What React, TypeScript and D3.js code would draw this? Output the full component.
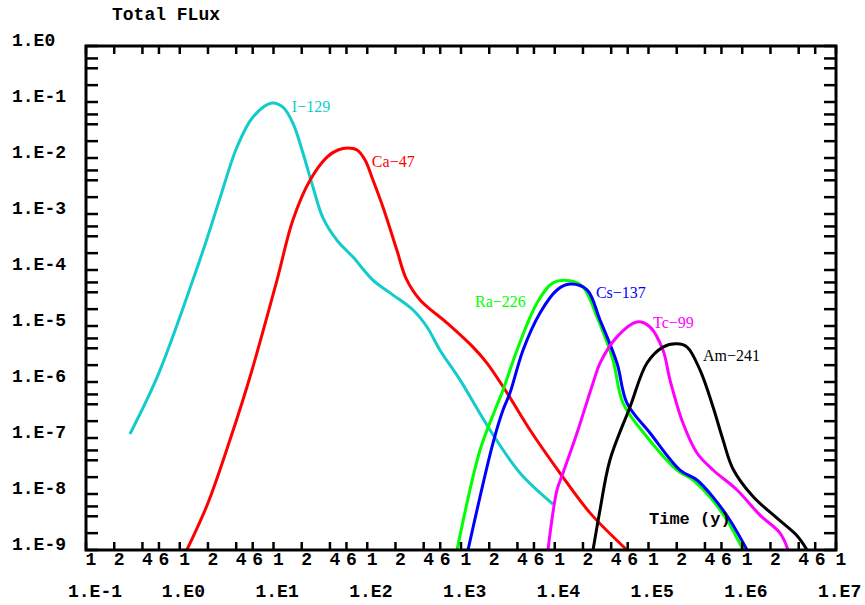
import React from "react";
import * as d3 from "d3";

type Pt = [number, number];

const i129: Pt[] = [
  [0.294, 1.18e-7], [0.586, 1.33e-6], [1.38, 6.6e-5], [1.95, 3.6e-4], [2.68, 1.9e-3],
  [4.08, 1.57e-2], [6.04, 5.4e-2], [9.6, 9.6e-2], [12.6, 8.1e-2], [16.1, 4.2e-2],
  [20.6, 1.23e-2], [26.4, 3.0e-3], [33.7, 8.5e-4], [47.5, 3.4e-4], [70.5, 1.7e-4],
  [115, 6.6e-5], [175, 3.9e-5], [308, 1.93e-5], [434, 9.6e-6], [597, 3.7e-6],
  [976, 1.09e-6], [2040, 1.39e-7], [4260, 2.37e-8], [9570, 6.6e-9],
];

const ca47: Pt[] = [
  [1.19, 1.0e-9], [2.0, 6.9e-9], [3.43, 9.2e-8], [5.61, 1.23e-6], [10.9, 6.6e-5],
  [16.1, 7.8e-4], [24.5, 4.0e-3], [37.2, 1.04e-2], [48.7, 1.39e-2], [62.4, 1.51e-2],
  [77.8, 1.39e-2], [94.7, 9.2e-3], [115, 4.05e-3], [147, 1.33e-3], [208, 2.2e-4],
  [260, 7.0e-5], [366, 2.91e-5], [710, 1.13e-5], [1343, 4.2e-6], [1893, 2.18e-6],
  [3097, 6.4e-7], [5450, 1.39e-7], [11370, 2.37e-8], [23770, 4.6e-9], [59000, 1.0e-9],
];

const ra226: Pt[] = [
  [906, 1.0e-9], [1596, 6.1e-8], [2307, 3.16e-7], [2807, 7.2e-7], [3956, 3.7e-6],
  [6471, 2.58e-5], [9570, 5.9e-5], [14550, 6.4e-5], [20000, 5.0e-5], [28230, 1.45e-5],
  [41800, 2.47e-6], [53500, 4.2e-7], [96400, 1.04e-7], [201000, 2.68e-8],
  [298000, 1.78e-8], [453000, 8.8e-9], [688000, 3.4e-9], [1.02e6, 1.0e-9],
];

const cs137: Pt[] = [
  [1188, 1.0e-9], [2193, 8.1e-8], [2807, 3.16e-7], [3334, 6.4e-7], [4585, 3.7e-6],
  [6960, 1.71e-5], [10570, 4.4e-5], [14550, 5.6e-5], [22100, 4.4e-5], [30400, 1.28e-5],
  [46100, 2.18e-6], [59000, 4.2e-7], [103800, 1.23e-7], [216800, 2.68e-8],
  [329000, 1.78e-8], [488000, 8.8e-9], [740000, 3.4e-9], [1.125e6, 1.0e-9],
];

const tc99: Pt[] = [
  [8470, 1.0e-9], [10570, 1.18e-8], [12250, 2.37e-8], [17270, 1.23e-7], [25600, 9.6e-7],
  [30400, 2.18e-6], [46100, 6.4e-6], [75400, 1.18e-5], [103800, 9.6e-6], [142800, 3.7e-6],
  [169500, 1.09e-6], [233000, 1.85e-7], [329000, 5.4e-8], [488000, 2.68e-8],
  [880000, 1.18e-8], [1.545e6, 4.2e-9], [2.53e6, 2.0e-9], [3.08e6, 1.0e-9],
];

const am241: Pt[] = [
  [25600, 1.0e-9], [30400, 5.2e-9], [38800, 4.05e-8], [63500, 3.58e-7], [96400, 2.18e-6],
  [142800, 4.2e-6], [201000, 4.8e-6], [258000, 4.2e-6], [354000, 1.64e-6],
  [488000, 3.58e-7], [624000, 9.2e-8], [797000, 2.8e-8], [1.303e6, 9.0e-9],
  [2.35e6, 3.7e-9], [3.84e6, 1.8e-9], [4.91e6, 1.0e-9],
];

const seriesNames = ["I\u2212129", "Ca\u221247", "Ra\u2212226", "Cs\u2212137", "Tc\u221299", "Am\u2212241"];
const seriesData = [i129, ca47, ra226, cs137, tc99, am241];
const seriesColors = ["#12CCCC", "#FF0000", "#00FF00", "#0000FF", "#FF00FF", "#000000"];
// label anchor (text start, baseline) in data coords [t, flux]
const labelAnchors: Pt[] = [
  [15.7, 6.6e-2], [112, 6.9e-3], [1410, 2.18e-5], [27500, 3.16e-5], [111700, 9.2e-6], [381000, 2.37e-6],
];

const xDecades = [-1, 0, 1, 2, 3, 4, 5, 6, 7];
const xDecadeLabels = ["1.E-1", "1.E0", "1.E1", "1.E2", "1.E3", "1.E4", "1.E5", "1.E6", "1.E7"];
const yDecades = [0, -1, -2, -3, -4, -5, -6, -7, -8, -9];
const yDecadeLabels = ["1.E0", "1.E-1", "1.E-2", "1.E-3", "1.E-4", "1.E-5", "1.E-6", "1.E-7", "1.E-8", "1.E-9"];
const tickMultiples = [1, 2, 4, 6];
const titleText = "Total FLux";
const xTitleText = "Time (y)";

const W = 865, H = 605;
const L = 86, R = 836, T = 46, B = 550;
const mono = "'Liberation Mono', 'Courier New', monospace";
const serif = "'Liberation Serif', 'Times New Roman', serif";

export default function App() {
  const x = d3.scaleLog().domain([0.1, 1e7]).range([L, R]);
  const y = d3.scaleLog().domain([1e-9, 1]).range([B, T]);
  const line = d3
    .line<Pt>()
    .x((d) => x(d[0]))
    .y((d) => y(d[1]))
    .curve(d3.curveCatmullRom.alpha(0.5));

  const xTicks: { v: number; m: number }[] = [];
  xDecades.forEach((d) => {
    tickMultiples.forEach((m) => {
      const v = m * Math.pow(10, d);
      if (v <= 1e7 * 1.0001) xTicks.push({ v, m });
    });
  });
  const yTicks: number[] = [];
  yDecades.forEach((d) => {
    tickMultiples.forEach((m) => {
      const v = m * Math.pow(10, d);
      if (v <= 1.0001) yTicks.push(v);
    });
  });

  return (
    <svg width={W} height={H} style={{ position: "absolute", left: 0, top: 0, background: "#fff" }}>
      <defs>
        <clipPath id="plotclip">
          <rect x={L} y={T} width={R - L} height={B - T} />
        </clipPath>
      </defs>
      <rect x={0} y={0} width={W} height={H} fill="#fff" />
      <text x={112} y={20} fontFamily={mono} fontWeight="bold" fontSize={18} fill="#000">
        {titleText}
      </text>
      {yDecades.map((d, i) => (
        <text key={"yl" + i} x={12} y={y(Math.pow(10, d))} fontFamily={mono} fontWeight="bold" fontSize={18} fill="#000">
          {yDecadeLabels[i]}
        </text>
      ))}
      {xDecades.map((d, i) => (
        <text key={"xl" + i} x={x(Math.pow(10, d)) - 18} y={597} fontFamily={mono} fontWeight="bold" fontSize={18} fill="#000">
          {xDecadeLabels[i]}
        </text>
      ))}
      {xTicks.map((t, i) => (
        <text key={"xm" + i} x={x(t.v) + 5} y={565} textAnchor="middle" fontFamily={mono} fontWeight="bold" fontSize={18} fill="#000">
          {String(t.m)}
        </text>
      ))}
      <g clipPath="url(#plotclip)">
        {seriesData.map((s, i) => (
          <path key={"s" + i} d={line(s) || ""} fill="none" stroke={seriesColors[i]} strokeWidth={3} strokeLinejoin="round" />
        ))}
      </g>
      {seriesNames.map((n, i) => (
        <text key={"n" + i} x={x(labelAnchors[i][0])} y={y(labelAnchors[i][1])} fontFamily={serif} fontSize={16} fill={seriesColors[i]}>
          {n}
        </text>
      ))}
      <text x={649} y={524} fontFamily={mono} fontWeight="bold" fontSize={17} fill="#000">
        {xTitleText}
      </text>
      {xTicks.map((t, i) => (
        <g key={"xt" + i}>
          <line x1={x(t.v)} x2={x(t.v)} y1={T} y2={T + 8} stroke="#000" strokeWidth={2.5} />
          <line x1={x(t.v)} x2={x(t.v)} y1={B} y2={B - 8} stroke="#000" strokeWidth={2.5} />
        </g>
      ))}
      {yTicks.map((v, i) => (
        <g key={"yt" + i}>
          <line x1={L} x2={L + 12} y1={y(v)} y2={y(v)} stroke="#000" strokeWidth={2.5} />
          <line x1={R} x2={R - 12} y1={y(v)} y2={y(v)} stroke="#000" strokeWidth={2.5} />
        </g>
      ))}
      <rect x={L} y={T} width={R - L} height={B - T} fill="none" stroke="#000" strokeWidth={3} />
    </svg>
  );
}
